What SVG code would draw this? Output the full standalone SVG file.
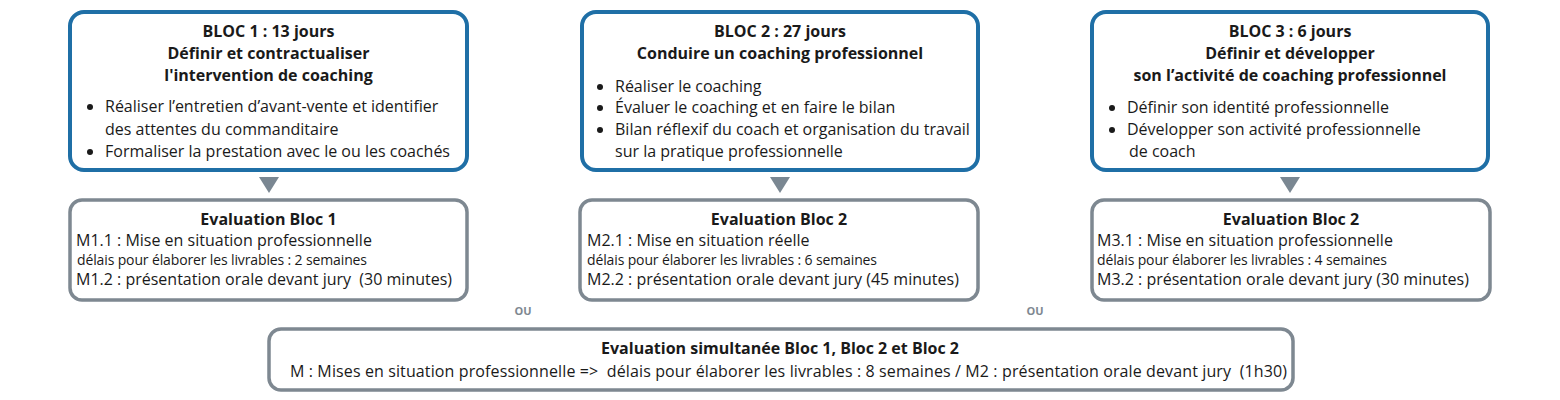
<svg xmlns="http://www.w3.org/2000/svg" width="1560" height="400" viewBox="0 0 1560 400">
<style>
text{font-family:"Open Sans","Noto Sans","Liberation Sans",sans-serif;fill:#1a1a1a}
.bloc{fill:#fff;stroke:#1f6fa6;stroke-width:4}
.eval{fill:#fff;stroke:#7e8891;stroke-width:3.5}
.t{font-weight:bold;font-size:16px;text-anchor:middle}
.b{font-size:16px}
.s{font-size:14px}
.ou{font-weight:bold;font-size:11px;fill:#7e8891;text-anchor:middle}
.tri{fill:#7a8792}
.dot{fill:#1a1a1a}
</style>
<rect width="1560" height="400" fill="#fff"/>
<g id="bloc1">
<rect class="bloc" x="70" y="12" width="397" height="158" rx="14"/>
<text class="t" x="268.5" y="37">BLOC 1 : 13 jours</text>
<text class="t" x="268.5" y="59">Définir et contractualiser</text>
<text class="t" x="268.5" y="81">l'intervention de coaching</text>
<circle class="dot" cx="90" cy="107" r="3"/>
<text class="b" x="105" y="112">Réaliser l’entretien d’avant-vente et identifier</text>
<text class="b" x="105" y="135">des attentes du commanditaire</text>
<circle class="dot" cx="90" cy="152" r="3"/>
<text class="b" x="105" y="157">Formaliser la prestation avec le ou les coachés</text>
</g>
<g id="bloc2">
<rect class="bloc" x="582" y="12" width="396" height="158" rx="14"/>
<text class="t" x="780" y="37">BLOC 2 : 27 jours</text>
<text class="t" x="780" y="59">Conduire un coaching professionnel</text>
<circle class="dot" cx="600" cy="87" r="3"/>
<text class="b" x="615" y="92">Réaliser le coaching</text>
<circle class="dot" cx="600" cy="108" r="3"/>
<text class="b" x="615" y="113">Évaluer le coaching et en faire le bilan</text>
<circle class="dot" cx="600" cy="130" r="3"/>
<text class="b" x="615" y="135">Bilan réflexif du coach et organisation du travail</text>
<text class="b" x="615" y="157">sur la pratique professionnelle</text>
</g>
<g id="bloc3">
<rect class="bloc" x="1092" y="12" width="396" height="158" rx="14"/>
<text class="t" x="1290" y="37">BLOC 3 : 6 jours</text>
<text class="t" x="1290" y="59">Définir et développer</text>
<text class="t" x="1290" y="81">son l’activité de coaching professionnel</text>
<circle class="dot" cx="1112" cy="108" r="3"/>
<text class="b" x="1127" y="113">Définir son identité professionnelle</text>
<circle class="dot" cx="1112" cy="130" r="3"/>
<text class="b" x="1127" y="135">Développer son activité professionnelle</text>
<text class="b" x="1129" y="157">de coach</text>
</g>
<g id="connectors">
<polygon class="tri" points="259,177 279,177 269,193"/>
<polygon class="tri" points="770,177 790,177 780,193"/>
<polygon class="tri" points="1280,177 1300,177 1290,193"/>
</g>
<g id="eval1">
<rect class="eval" x="70" y="200" width="397" height="100" rx="12"/>
<text class="t" x="268.5" y="225">Evaluation Bloc 1</text>
<text class="b" x="76" y="246">M1.1 : Mise en situation professionnelle</text>
<text class="s" x="77" y="265" textLength="290" lengthAdjust="spacing">délais pour élaborer les livrables : 2 semaines</text>
<text class="b" x="76" y="285" xml:space="preserve">M1.2 : présentation orale devant jury  (30 minutes)</text>
</g>
<g id="eval2">
<rect class="eval" x="580" y="200" width="398" height="100" rx="12"/>
<text class="t" x="779" y="225">Evaluation Bloc 2</text>
<text class="b" x="587" y="246">M2.1 : Mise en situation réelle</text>
<text class="s" x="587" y="265" textLength="290" lengthAdjust="spacing">délais pour élaborer les livrables : 6 semaines</text>
<text class="b" x="587" y="285">M2.2 : présentation orale devant jury (45 minutes)</text>
</g>
<g id="eval3">
<rect class="eval" x="1092" y="200" width="398" height="100" rx="12"/>
<text class="t" x="1291" y="225">Evaluation Bloc 2</text>
<text class="b" x="1097" y="246">M3.1 : Mise en situation professionnelle</text>
<text class="s" x="1097" y="265" textLength="290" lengthAdjust="spacing">délais pour élaborer les livrables : 4 semaines</text>
<text class="b" x="1097" y="285">M3.2 : présentation orale devant jury (30 minutes)</text>
</g>
<g id="ou">
<text class="ou" x="523" y="315">OU</text>
<text class="ou" x="1035" y="315">OU</text>
</g>
<g id="evalSim">
<rect class="eval" x="269" y="329" width="1024" height="61" rx="12"/>
<text class="t" x="780" y="354">Evaluation simultanée Bloc 1, Bloc 2 et Bloc 2</text>
<text class="b" x="290" y="377" xml:space="preserve" textLength="997" lengthAdjust="spacing">M : Mises en situation professionnelle =&gt;  délais pour élaborer les livrables : 8 semaines / M2 : présentation orale devant jury  (1h30)</text>
</g>
</svg>
